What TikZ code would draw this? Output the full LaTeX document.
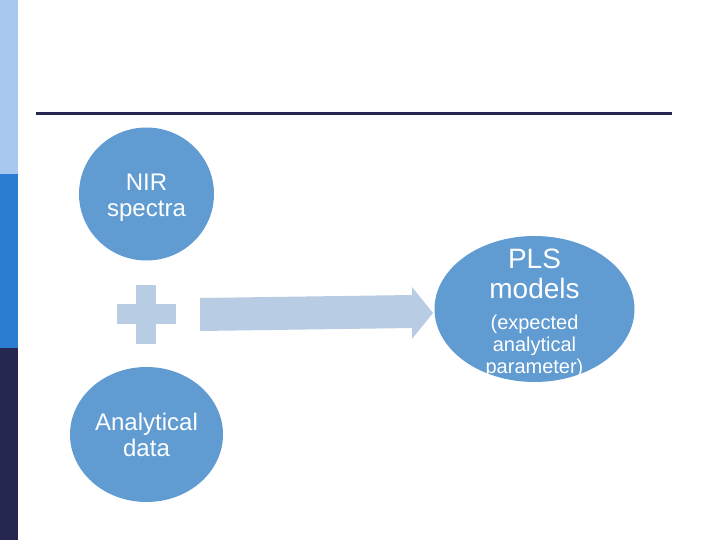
\documentclass[tikz,border=0pt]{standalone}
\usepackage{fontspec}
\setmainfont{Liberation Sans}
\usetikzlibrary{shapes.geometric}
\definecolor{barlight}{RGB}{168,200,240}
\definecolor{barmid}{RGB}{42,125,209}
\definecolor{navy}{RGB}{37,39,80}
\definecolor{blob}{RGB}{96,155,209}
\definecolor{pale}{RGB}{184,204,228}
\tikzset{
  blobnode/.style={ellipse, fill=blob, inner sep=0pt},
  blobtext/.style={text=white, align=center}
}
\begin{document}
\begin{tikzpicture}[x=1pt,y=-1pt]
  \useasboundingbox (0,0) rectangle (720,540);
  %side bar
  \fill[barlight] (0,0) rectangle (18,174);
  \fill[barmid] (0,174) rectangle (18,348);
  \fill[navy] (0,348) rectangle (18,540);
  %title rule
  \fill[navy] (36,112) rectangle (672,115);
  %inputs
  \node[blobnode, minimum width=135pt, minimum height=133pt] (nir) at (146.5,194) {};
  \node[blobtext, font=\fontsize{24}{26}\selectfont] (nirtext) at (146.5,198) {NIR\\spectra};
  \node[blobnode, minimum width=153pt, minimum height=135pt] (ana) at (146.5,434.5) {};
  \node[blobtext, font=\fontsize{24}{26}\selectfont] (anatext) at (ana.center) {Analytical\\data};
  %plus sign
  \fill[pale] (136,285) rectangle (156,344);
  \fill[pale] (117,304) rectangle (176,324);
  %block arrow
  \fill[pale] (200,298) -- (412,295) -- (412,287) -- (433,313)
    -- (412,339) -- (412,328) -- (200,331) -- cycle;
  %result
  \node[blobnode, minimum width=200pt, minimum height=146pt] (pls) at (534.5,309) {};
  \node[blobtext, font=\fontsize{28}{30}\selectfont] (plstext) at (534.5,274) {PLS\\models};
  \node[blobtext, font=\fontsize{20}{22}\selectfont] (partext) at (534.5,346) {(expected\\analytical\\parameter)};
\end{tikzpicture}
\end{document}
